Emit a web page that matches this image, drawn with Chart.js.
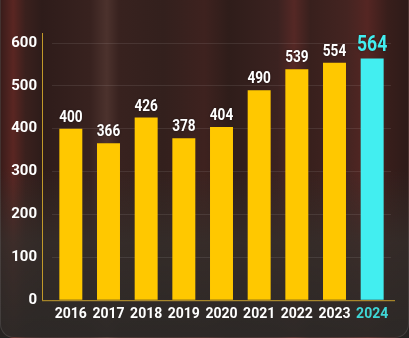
<!DOCTYPE html>
<html>
<head>
<meta charset="utf-8">
<script src="https://cdn.jsdelivr.net/npm/chart.js@4"></script>
<style>
  html, body { margin: 0; padding: 0; background: #262321; }
  #wrap {
    position: relative; width: 409px; height: 338px; overflow: hidden;
    border-radius: 0 0 14px 14px;
    box-sizing: border-box;
    border: 1px solid rgba(255,255,255,0.10);
    border-top: none;
    background:
      linear-gradient(to bottom, rgba(0,0,0,0) 0%, rgba(0,0,0,0) 50%, rgba(52,47,44,0.75) 72%, rgba(44,41,39,0.95) 100%),
      linear-gradient(to right,
        #3a1c1a 0%, #5a2622 3%, #3a201d 6%, #2e1c1a 10%, #38221f 22%, #4c322d 26%, #38221f 29%,
        #33201d 40%, #3e221f 50%, #2f1d1a 56%, #3b2220 68%, #552825 72%, #38201d 76%,
        #442421 85%, #552623 90%, #381e1b 95%, #2e1b19 100%);
  }
  canvas { position: absolute; left: 0; top: 0; }
</style>
</head>
<body>
<div id="wrap"><canvas id="c" width="409" height="338"></canvas></div>
<script>
const years = ['2016','2017','2018','2019','2020','2021','2022','2023','2024'];
const values = [400, 366, 426, 378, 404, 490, 539, 554, 564];
const yTicks = [0, 100, 200, 300, 400, 500, 600];

const YELLOW = '#FFC800';
const CYAN = '#42EEF0';
const TEAL = '#3FD6D6';
const AXIS = '#C29A2A';
const FONT = 'Roboto, "DejaVu Sans Condensed", sans-serif';
const last = years.length - 1;

const overlay = {
  id: 'overlay',
  afterDatasetsDraw(chart) {
    const ctx = chart.ctx;
    const area = chart.chartArea;
    const y = chart.scales.y;
    const x0 = area.left - 10;
    const yBottom = y.getPixelForValue(0);
    ctx.save();
    ctx.strokeStyle = AXIS;
    ctx.lineWidth = 1;
    ctx.beginPath();
    ctx.moveTo(x0 + 0.5, area.top - 10);
    ctx.lineTo(x0 + 0.5, yBottom);
    ctx.moveTo(x0, yBottom + 0.5);
    ctx.lineTo(area.right + 4, yBottom + 0.5);
    ctx.stroke();

    const meta = chart.getDatasetMeta(0);
    ctx.textAlign = 'center';
    ctx.textBaseline = 'alphabetic';
    meta.data.forEach((el, i) => {
      const isLast = i === last;
      ctx.save();
      ctx.translate(el.x, el.y - 7);
      ctx.scale(0.8, 1);
      ctx.font = 'bold ' + (isLast ? 22 : 17) + 'px ' + FONT;
      ctx.fillStyle = isLast ? CYAN : '#FFFFFF';
      ctx.shadowColor = 'rgba(0,0,0,0.5)';
      ctx.shadowBlur = 2;
      ctx.fillText(String(values[i]), 0, 0);
      ctx.restore();
    });
    ctx.restore();
  }
};

new Chart(document.getElementById('c'), {
  type: 'bar',
  data: {
    labels: years,
    datasets: [{
      data: values,
      backgroundColor: (c) => c.dataIndex === last ? CYAN : YELLOW,
      borderWidth: 0,
      categoryPercentage: 1,
      barPercentage: 0.61
    }]
  },
  options: {
    responsive: false,
    animation: false,
    devicePixelRatio: 1,
    layout: { padding: { left: 0, right: 19, top: 43, bottom: 9 } },
    plugins: { legend: { display: false }, tooltip: { enabled: false } },
    scales: {
      x: {
        grid: { display: false, drawTicks: false },
        border: { display: false },
        ticks: {
          padding: 6,
          maxRotation: 0,
          minRotation: 0,
          autoSkip: false,
          color: (c) => c.index === last ? TEAL : '#FFFFFF',
          font: { family: FONT, size: 14, weight: 'bold' }
        }
      },
      y: {
        min: yTicks[0],
        max: yTicks[yTicks.length - 1],
        afterFit: (s) => { s.width = 51; },
        afterBuildTicks: (s) => { s.ticks = yTicks.map(v => ({ value: v })); },
        grid: { color: 'rgba(255,255,255,0.09)', drawTicks: false },
        border: { display: false },
        ticks: {
          padding: 15,
          color: '#FFFFFF',
          font: { family: FONT, size: 15, weight: 'bold' }
        }
      }
    }
  },
  plugins: [overlay]
});
</script>
</body>
</html>
